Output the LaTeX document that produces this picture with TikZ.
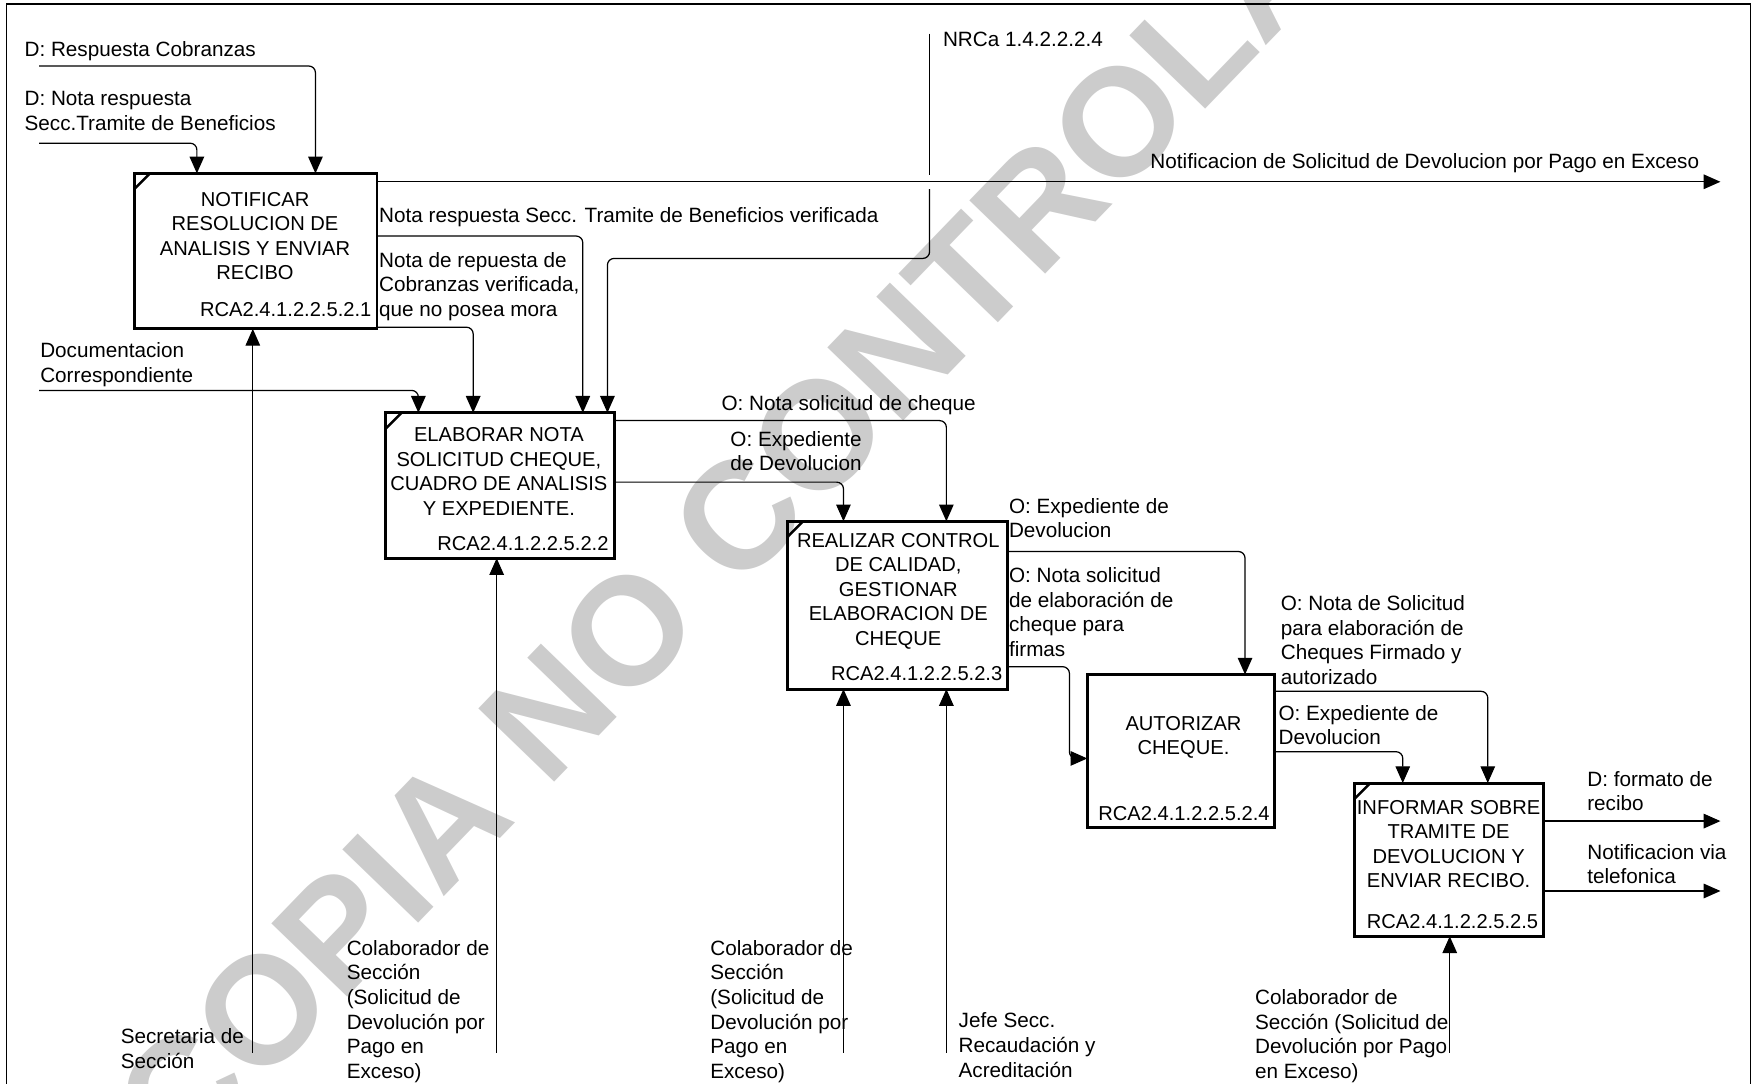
\documentclass[tikz,border=0pt]{standalone}
\usepackage{fontspec}
\setmainfont{Liberation Sans}
\usetikzlibrary{arrows.meta,calc}

\begin{document}
\begin{tikzpicture}[x=1pt,y=-1pt,
  every node/.style={inner sep=0pt,outer sep=0pt},
  lbl/.style={font=\fontsize{18.5}{22}\selectfont,align=left,anchor=north west},
  btxt/.style={font=\fontsize{18}{22}\selectfont,align=center},
  code/.style={font=\fontsize{18}{22}\selectfont,anchor=east},
  proc/.style={draw,line width=2.6pt},
  corner/.style={line width=2.2pt},
  wire/.style={line width=1.1pt,rounded corners=6pt},
  flow/.style={wire,-{Triangle[length=15pt,width=13pt]}}
]
\useasboundingbox (0,0) rectangle (1568,969);

% watermark behind everything
\node[font=\fontsize{137}{137}\selectfont\bfseries,text=black!20,rotate=46] (wm) at (715,405) {COPIA NO CONTROLADA};

% sheet frame
\draw[line width=1.4pt] (6,985) -- (6,3.5) -- (1565,3.5) -- (1565,985);

% activity boxes
\node[proc,minimum width=217pt,minimum height=139pt] (b1) at (228.5,224.5) {};
\node[proc,minimum width=204pt,minimum height=130pt] (b2) at (447,434) {};
\node[proc,minimum width=197pt,minimum height=150pt] (b3) at (802.5,541) {};
\node[proc,minimum width=167pt,minimum height=137pt] (b4) at (1055.5,671.5) {};
\node[proc,minimum width=169pt,minimum height=137pt] (b5) at (1295.5,768.5) {};

\foreach \b in {b1,b2,b3,b5}
  \draw[corner] ([yshift=-14pt]\b.north west) -- ([xshift=14pt]\b.north west);

% box titles and codes
\node[btxt] (t1) at (228,211) {NOTIFICAR\\RESOLUCION DE\\ANALISIS Y ENVIAR\\RECIBO};
\node[code] (c1) at (332,277) {RCA2.4.1.2.2.5.2.1};
\node[btxt] (t2) at (446,421.5) {ELABORAR NOTA\\SOLICITUD CHEQUE,\\CUADRO DE ANALISIS\\Y EXPEDIENTE.};
\node[code] (c2) at (544,486) {RCA2.4.1.2.2.5.2.2};
\node[btxt] (t3) at (803,528.5) {REALIZAR CONTROL\\DE CALIDAD,\\GESTIONAR\\ELABORACION DE\\CHEQUE};
\node[code] (c3) at (896,602) {RCA2.4.1.2.2.5.2.3};
\node[btxt] (t4) at (1058,659) {AUTORIZAR\\CHEQUE.};
\node[code] (c4) at (1135,727) {RCA2.4.1.2.2.5.2.4};
\node[btxt] (t5) at (1295,754.5) {INFORMAR SOBRE\\TRAMITE DE\\DEVOLUCION Y\\ENVIAR RECIBO.};
\node[code] (c5) at (1375,824) {RCA2.4.1.2.2.5.2.5};

% free ends of boundary arrows
\coordinate (iRC) at (35,59);
\coordinate (iNR) at (35,128);
\coordinate (iDoc) at (35,349);
\coordinate (oN) at (1538,162.5);
\coordinate (oF) at (1538,734);
\coordinate (oT) at (1538,796.5);
\coordinate (nr) at (831,30);
\coordinate (nrA) at (831,156);
\coordinate (nrB) at (831,169);
\coordinate (nrC) at (831,231);
\coordinate (mSec) at (226,941);
\coordinate (mC1) at (444,941);
\coordinate (mC2) at (754,941);
\coordinate (mJe) at (846,941);
\coordinate (mC3) at (1296,941);

% inputs and controls
\draw[flow] (iRC) -| ([xshift=162pt]b1.north west);
\draw[flow] (iNR) -| ([xshift=56pt]b1.north west);
\draw[flow] (iDoc) -| ([xshift=29pt]b2.north west);
\draw[wire] (nr) -- (nrA);
\draw[flow] (nrB) -- (nrC) -| ([xshift=198pt]b2.north west);

% outputs
\draw[flow] ([yshift=-7.5pt]b1.north east) -- (oN);
\draw[flow] ([yshift=-56pt]b1.north east) -| ([xshift=176pt]b2.north west);
\draw[flow] ([yshift=-137.5pt]b1.north east) -| ([xshift=78pt]b2.north west);
\draw[flow] ([yshift=-7pt]b2.north east) -| ([xshift=142pt]b3.north west);
\draw[flow] ([yshift=-62pt]b2.north east) -| ([xshift=50pt]b3.north west);
\draw[flow] ([yshift=-27pt]b3.north east) -| ([xshift=141pt]b4.north west);
\draw[flow] ([yshift=-130pt]b3.north east) -| ([xshift=-16pt,yshift=-6.5pt]b4.west) -- ([yshift=-6.5pt]b4.west);
\draw[flow] ([yshift=-15pt]b4.north east) -| ([xshift=119pt]b5.north west);
\draw[flow] ([yshift=-69pt]b4.north east) -| ([xshift=43pt]b5.north west);
\draw[flow] (oF -| b5.east) -- (oF);
\draw[flow] (oT -| b5.east) -- (oT);

% mechanisms
\draw[flow] (mSec) -- (mSec |- b1.south);
\draw[flow] (mC1) -- (mC1 |- b2.south);
\draw[flow] (mC2) -- (mC2 |- b3.south);
\draw[flow] (mJe) -- (mJe |- b3.south);
\draw[flow] (mC3) -- (mC3 |- b5.south);

% arrow labels
\node[lbl] (lRC) at (22,37.5) {D: Respuesta Cobranzas};
\node[lbl] (lNR) at (22,81.5) {D: Nota respuesta\\Secc.Tramite de Beneficios};
\node[lbl] (lDoc) at (36,306.5) {Documentacion\\Correspondiente};
\node[lbl,anchor=north east] (lN) at (1519,137.5) {Notificacion de Solicitud de Devolucion por Pago en Exceso};
\node[lbl] (lNRv) at (339,185.5) {Nota respuesta Secc. Tramite de Beneficios verificada};
\node[lbl] (lCob) at (339,225.5) {Nota de repuesta de\\Cobranzas verificada,\\que no posea mora};
\node[lbl] (lNRCa) at (843,28.5) {NRCa 1.4.2.2.2.4};
\node[lbl] (lNSC) at (645,353.5) {O: Nota solicitud de cheque};
\node[lbl] (lED1) at (653,385.5) {O: Expediente\\de Devolucion};
\node[lbl] (lED2) at (902,445.5) {O: Expediente de\\Devolucion};
\node[lbl] (lNSE) at (902,507.5) {O: Nota solicitud\\de elaboración de\\cheque para\\firmas};
\node[lbl] (lNSF) at (1145,532.5) {O: Nota de Solicitud\\para elaboración de\\Cheques Firmado y\\autorizado};
\node[lbl] (lED3) at (1143,630.5) {O: Expediente de\\Devolucion};
\node[lbl] (lFR) at (1419,689.5) {D: formato de\\recibo};
\node[lbl] (lNT) at (1419,754.5) {Notificacion via\\telefonica};
\node[lbl] (lSec) at (108,919.5) {Secretaria de\\Sección};
\node[lbl] (lC1) at (310,840.5) {Colaborador de\\Sección\\(Solicitud de\\Devolución por\\Pago en\\Exceso)};
\node[lbl] (lC2) at (635,840.5) {Colaborador de\\Sección\\(Solicitud de\\Devolución por\\Pago en\\Exceso)};
\node[lbl] (lJe) at (857,905.5) {Jefe Secc.\\Recaudación y\\Acreditación};
\node[lbl] (lC3) at (1122,884.5) {Colaborador de\\Sección (Solicitud de\\Devolución por Pago\\en Exceso)};
\end{tikzpicture}
\end{document}
